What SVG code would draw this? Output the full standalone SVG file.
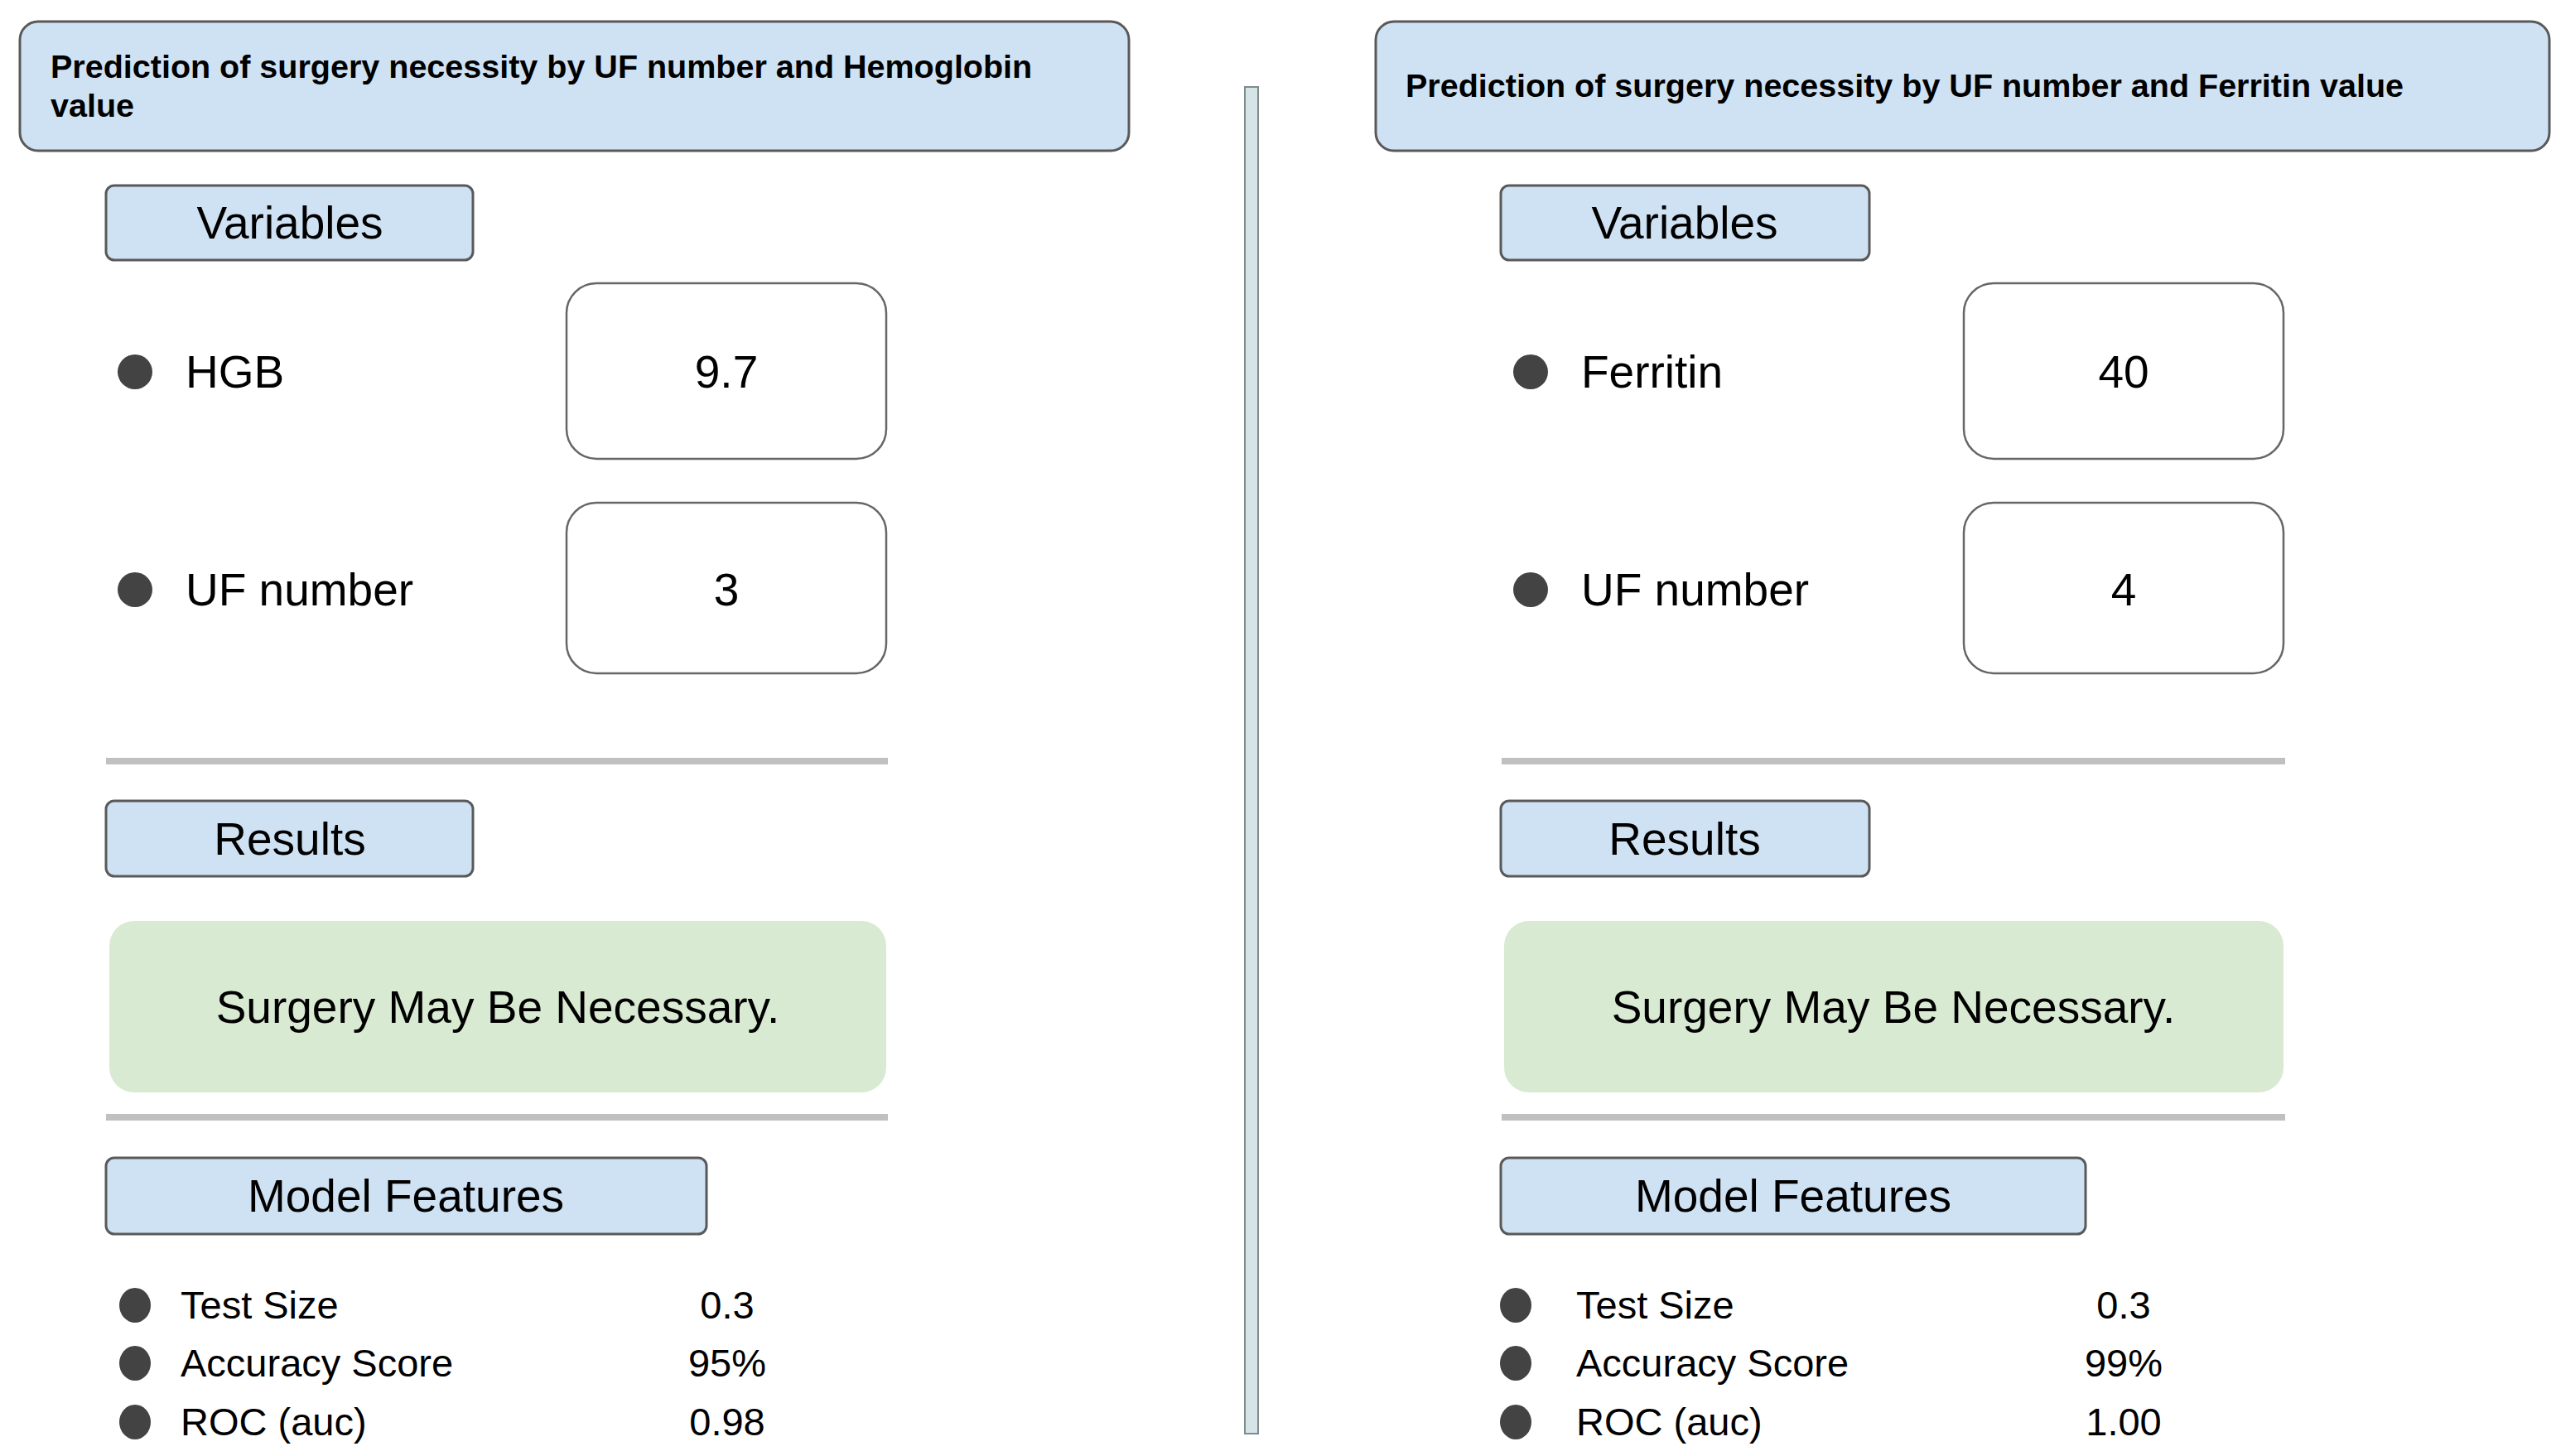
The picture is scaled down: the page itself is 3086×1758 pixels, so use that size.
<svg xmlns="http://www.w3.org/2000/svg" width="3086" height="1758" viewBox="0 0 3086 1758">
<style>
.bg{fill:#ffffff}
.title{fill:#cfe2f3;stroke:#595959;stroke-width:3}
.hdr{fill:#cfe2f3;stroke:#595959;stroke-width:3}
.val{fill:#ffffff;stroke:#666666;stroke-width:2.5}
.res{fill:#d9ead3;stroke:none}
.sep{stroke:#c0c0c0;stroke-width:8}
.div{fill:#d6e4e8;stroke:#7f8c8d;stroke-width:2}
.dot{fill:#434343}
text{font-family:"Liberation Sans",Arial,sans-serif;fill:#000000}
.tt{font-size:39.5px;font-weight:bold}
.t{font-size:55px}
.c{text-anchor:middle}
.s{font-size:47px}
</style>
<rect class="bg" x="0" y="0" width="3086" height="1758"/>

<g id="divider">
<rect class="div" x="1503" y="105" width="16" height="1626"/>
</g>

<g id="separators">
<line class="sep" x1="128" y1="919" x2="1072" y2="919"/>
<line class="sep" x1="128" y1="1349" x2="1072" y2="1349"/>
<line class="sep" x1="1813" y1="919" x2="2759" y2="919"/>
<line class="sep" x1="1813" y1="1349" x2="2759" y2="1349"/>
</g>

<!-- Left panel -->
<g id="left-title">
<rect class="title" x="24" y="26" width="1339" height="156" rx="22"/>
<text class="tt" x="61" y="94">Prediction of surgery necessity by UF number and Hemoglobin</text>
<text class="tt" x="61" y="141">value</text>
</g>
<g id="left-variables">
<rect class="hdr" x="128" y="224" width="443" height="90" rx="10"/>
<text class="t c" x="350" y="288">Variables</text>
</g>
<g id="left-hgb">
<circle class="dot" cx="163" cy="449" r="21"/>
<text class="t" x="224" y="468">HGB</text>
</g>
<g id="left-hgb-value">
<rect class="val" x="684" y="342" width="386" height="212" rx="36"/>
<text class="t c" x="877" y="468">9.7</text>
</g>
<g id="left-uf">
<circle class="dot" cx="163" cy="712" r="21"/>
<text class="t" x="224" y="731">UF number</text>
</g>
<g id="left-uf-value">
<rect class="val" x="684" y="607" width="386" height="206" rx="36"/>
<text class="t c" x="877" y="731">3</text>
</g>
<g id="left-results">
<rect class="hdr" x="128" y="967" width="443" height="91" rx="10"/>
<text class="t c" x="350" y="1032">Results</text>
</g>
<g id="left-outcome">
<rect class="res" x="132" y="1112" width="938" height="207" rx="30"/>
<text class="t c" x="601" y="1235">Surgery May Be Necessary.</text>
</g>
<g id="left-model">
<rect class="hdr" x="128" y="1398" width="725" height="92" rx="10"/>
<text class="t c" x="490" y="1463">Model Features</text>
</g>
<g id="left-features">
<ellipse class="dot" cx="163" cy="1576" rx="19" ry="21"/>
<text class="s" x="218" y="1592">Test Size</text>
<text class="s c" x="878" y="1592">0.3</text>
<ellipse class="dot" cx="163" cy="1646" rx="19" ry="21"/>
<text class="s" x="218" y="1662">Accuracy Score</text>
<text class="s c" x="878" y="1662">95%</text>
<ellipse class="dot" cx="163" cy="1717" rx="19" ry="21"/>
<text class="s" x="218" y="1733">ROC (auc)</text>
<text class="s c" x="878" y="1733">0.98</text>
</g>

<!-- Right panel -->
<g id="right-title">
<rect class="title" x="1661" y="26" width="1417" height="156" rx="22"/>
<text class="tt" x="1697" y="117">Prediction of surgery necessity by UF number and Ferritin value</text>
</g>
<g id="right-variables">
<rect class="hdr" x="1812" y="224" width="445" height="90" rx="10"/>
<text class="t c" x="2034" y="288">Variables</text>
</g>
<g id="right-ferritin">
<circle class="dot" cx="1848" cy="449" r="21"/>
<text class="t" x="1909" y="468">Ferritin</text>
</g>
<g id="right-ferritin-value">
<rect class="val" x="2371" y="342" width="386" height="212" rx="36"/>
<text class="t c" x="2564" y="468">40</text>
</g>
<g id="right-uf">
<circle class="dot" cx="1848" cy="712" r="21"/>
<text class="t" x="1909" y="731">UF number</text>
</g>
<g id="right-uf-value">
<rect class="val" x="2371" y="607" width="386" height="206" rx="36"/>
<text class="t c" x="2564" y="731">4</text>
</g>
<g id="right-results">
<rect class="hdr" x="1812" y="967" width="445" height="91" rx="10"/>
<text class="t c" x="2034" y="1032">Results</text>
</g>
<g id="right-outcome">
<rect class="res" x="1816" y="1112" width="941" height="207" rx="30"/>
<text class="t c" x="2286" y="1235">Surgery May Be Necessary.</text>
</g>
<g id="right-model">
<rect class="hdr" x="1812" y="1398" width="706" height="92" rx="10"/>
<text class="t c" x="2165" y="1463">Model Features</text>
</g>
<g id="right-features">
<ellipse class="dot" cx="1830" cy="1576" rx="19" ry="21"/>
<text class="s" x="1903" y="1592">Test Size</text>
<text class="s c" x="2564" y="1592">0.3</text>
<ellipse class="dot" cx="1830" cy="1646" rx="19" ry="21"/>
<text class="s" x="1903" y="1662">Accuracy Score</text>
<text class="s c" x="2564" y="1662">99%</text>
<ellipse class="dot" cx="1830" cy="1717" rx="19" ry="21"/>
<text class="s" x="1903" y="1733">ROC (auc)</text>
<text class="s c" x="2564" y="1733">1.00</text>
</g>
</svg>
